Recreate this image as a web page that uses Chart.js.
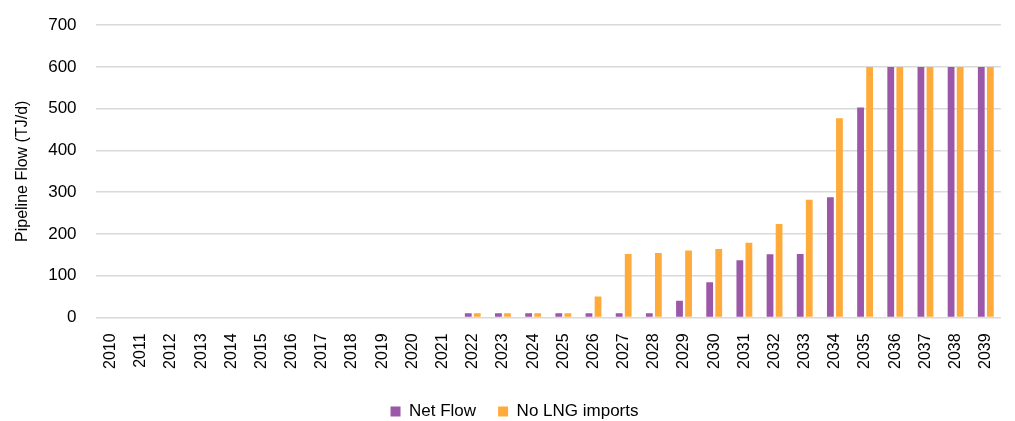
<!DOCTYPE html>
<html>
<head>
<meta charset="utf-8">
<script src="https://cdn.jsdelivr.net/npm/chart.js@4/dist/chart.umd.min.js"></script>
<style>
  html, body { margin: 0; padding: 0; background: #fff; }
  #wrap { width: 1015px; height: 421px; }
</style>
</head>
<body>
<div id="wrap"><canvas id="flowChart"></canvas></div>
<script>
const years = ['2010','2011','2012','2013','2014','2015','2016','2017','2018','2019',
               '2020','2021','2022','2023','2024','2025','2026','2027','2028','2029',
               '2030','2031','2032','2033','2034','2035','2036','2037','2038','2039'];

// TJ/d
const netFlow = [0,0,0,0,0,0,0,0,0,0,
                 0,0,10,10,10,10,10,10,10,40,
                 84,137,151,152,288,503,600,600,600,600];
const noLngImports = [0,0,0,0,0,0,0,0,0,0,
                      0,0,10,10,10,10,50,152,154,160,
                      164,179,224,282,477,600,600,600,600,600];

const yTicks = [0, 100, 200, 300, 400, 500, 600, 700];

const family = 'Liberation Sans, Arial, sans-serif';

new Chart(document.getElementById('flowChart'), {
    type: 'bar',
    data: {
        labels: years,
        datasets: [{
            label: 'Net Flow',
            data: netFlow,
            backgroundColor: '#9b57a8',
            categoryPercentage: 0.6,
            barPercentage: 0.75
        }, {
            label: 'No LNG imports',
            data: noLngImports,
            backgroundColor: '#ffab3b',
            categoryPercentage: 0.6,
            barPercentage: 0.75
        }]
    },
    options: {
        responsive: true,
        maintainAspectRatio: false,
        animation: false,
        layout: { padding: { top: 0, right: 0, left: 14, bottom: -9 } },
        plugins: {
            legend: {
                position: 'bottom',
                labels: {
                    color: '#000', font: { family: family, size: 17 },
                    boxWidth: 10, boxHeight: 10, padding: 22
                }
            },
            tooltip: { enabled: false }
        },
        scales: {
            x: {
                // invisible tick marks only give the labels their gap
                grid: { color: 'transparent', drawOnChartArea: false, tickLength: 6 },
                border: { display: false },
                ticks: {
                    color: '#000', font: { family: family, size: 16 },
                    minRotation: 90, maxRotation: 90, autoSkip: false, padding: 10
                },
                afterFit: axis => { axis.height += 2; }
            },
            y: {
                min: 0,
                max: 700,
                afterBuildTicks: axis => { axis.ticks = yTicks.map(v => ({ value: v })); },
                grid: { color: '#d9d9d9', lineWidth: 1.5, tickColor: 'transparent', tickLength: 4 },
                border: { display: false },
                ticks: { color: '#000', font: { family: family, size: 17 }, padding: 15 },
                title: {
                    display: true, text: 'Pipeline Flow (TJ/d)', color: '#000',
                    font: { family: family, size: 16 }, padding: { top: -1, bottom: 1 }
                }
            }
        }
    }
});
</script>
</body>
</html>
